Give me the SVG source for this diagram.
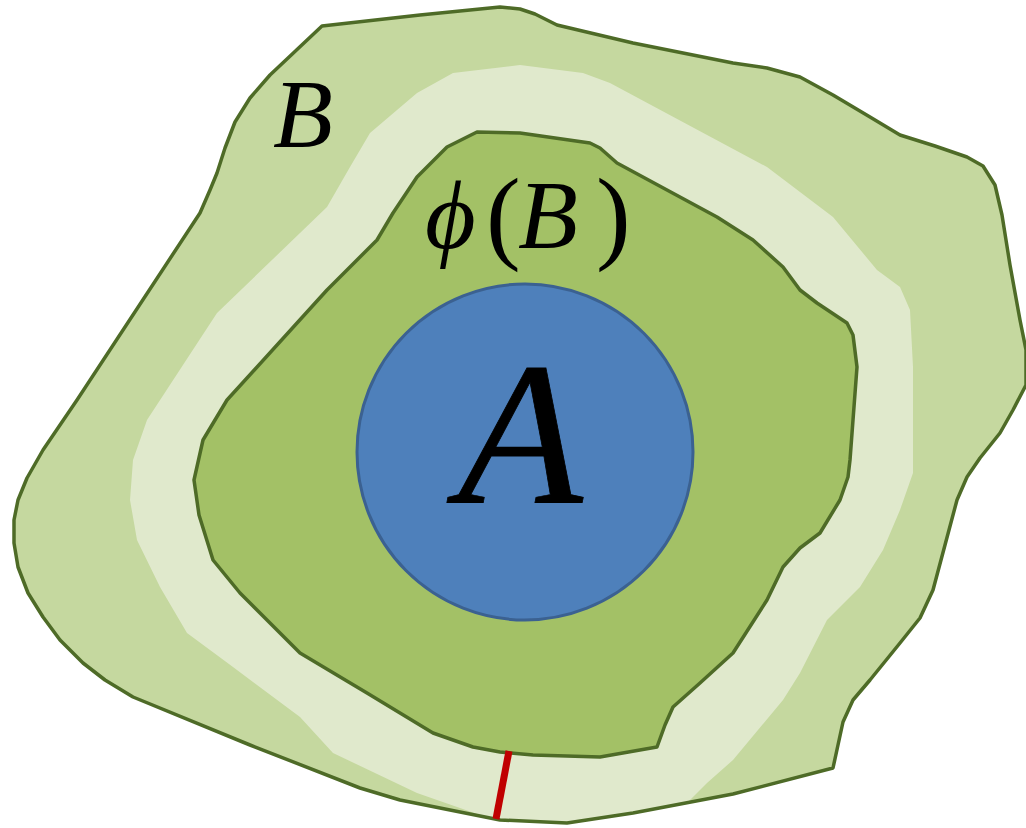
<svg xmlns="http://www.w3.org/2000/svg" width="1026" height="828" viewBox="0 0 1026 828">
  <style>
    .edge { stroke: #4e6b27; stroke-width: 3.5; stroke-linejoin: round; }
    .math { font-family: "Liberation Serif", "DejaVu Serif", serif; font-style: italic; fill: #000; }
    .paren { font-family: "Liberation Serif", "DejaVu Serif", serif; fill: #000; }
  </style>
  <defs>
    <path id="outerShape" d="M322,26 L420,15 L500,7 L520,9 L535,14 L557,25 L633,43 L733,63 L767,68 L800,77 L833,95 L870,117 L900,135 L935,146 L967,157 L983,166 L995,185 L1002,215 L1010,265 L1020,320 L1026,350 L1026,385 L1013,410 L1000,433 L980,458 L967,477 L957,500 L945,545 L933,590 L920,618 L900,643 L870,680 L853,700 L843,722 L838,745 L833,768 L733,794 L633,813 L567,823 L500,820 L400,800 L360,788 L250,745 L133,697 L105,680 L83,663 L60,640 L43,617 L28,593 L18,567 L14,543 L14,520 L18,500 L27,478 L43,450 L60,425 L77,400 L200,213 L210,190 L217,173 L225,148 L235,122 L250,98 L270,75 Z"/>
    <clipPath id="clipOuter"><use href="#outerShape"/></clipPath>
  </defs>
  <rect width="1026" height="828" fill="#ffffff"/>
  <g id="set-B">
    <use href="#outerShape" fill="#c5d89f"/>
  </g>
  <g id="band" clip-path="url(#clipOuter)">
    <path fill="#e0e9cc" stroke-linejoin="round" d="M520,65 L453,73 L417,93 L370,133 L350,167 L327,207 L300,233 L217,313 L147,420 L133,460 L130,500 L137,540 L160,587 L187,633 L233,667 L300,717 L333,753 L417,793 L480,815 L500,840 L650,840 L707,783 L733,760 L783,700 L800,673 L827,620 L860,587 L883,550 L900,510 L913,473 L913,400 L913,367 L910,310 L900,287 L877,270 L833,217 L767,167 L610,83 L583,73 Z"/>
  </g>
  <g id="set-B-outline">
    <use href="#outerShape" fill="none" class="edge"/>
  </g>
  <g id="set-phiB">
    <path class="edge" fill="#a3c166" d="M477,132 L520,133 L590,143 L600,148 L617,163 L717,217 L753,240 L783,267 L800,290 L817,303 L847,323 L853,335 L857,367 L853,420 L850,460 L848,477 L840,500 L820,533 L800,548 L783,567 L767,600 L733,653 L700,683 L673,707 L665,725 L657,747 L600,757 L533,755 L500,752 L473,747 L433,733 L367,693 L300,653 L240,593 L213,560 L199,515 L194,480 L203,440 L227,400 L327,290 L377,240 L393,213 L417,177 L447,147 Z"/>
  </g>
  <g id="set-A">
    <circle cx="525" cy="452" r="168" fill="#4e80bb" stroke="#3b6191" stroke-width="3"/>
    <text class="math" x="458" y="502" font-size="204" stroke="#000" stroke-width="0.8">A</text>
  </g>
  <g id="labels">
    <text class="math" x="273" y="147" font-size="98">B</text>
    <text class="math" x="425" y="248" font-size="98">ϕ</text>
    <text class="paren" x="486" y="250" font-size="104">(</text>
    <text class="math" x="518" y="248" font-size="98">B</text>
    <text class="paren" x="596" y="250" font-size="104">)</text>
  </g>
  <g id="width-mark">
    <line x1="509" y1="751" x2="496" y2="819" stroke="#c00000" stroke-width="7"/>
  </g>
</svg>
